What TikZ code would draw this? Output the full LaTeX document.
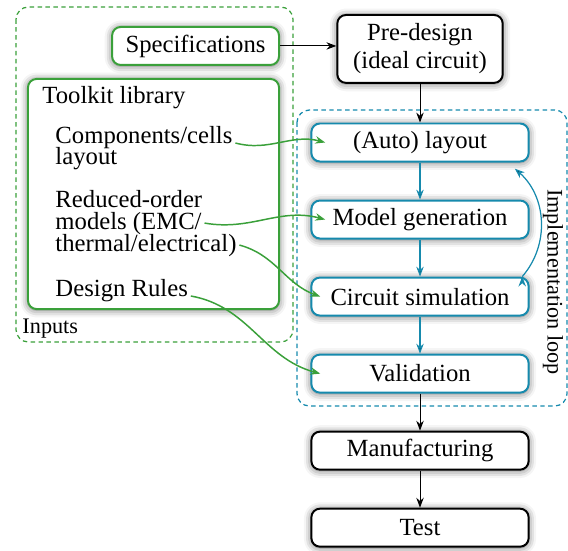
\documentclass[tikz,border=0pt]{standalone}
\usepackage{fontspec}
\setmainfont{Liberation Serif}
\usetikzlibrary{positioning, arrows.meta, shadows.blur}

\definecolor{inputgreen}{RGB}{58,160,58}
\definecolor{loopteal}{RGB}{22,138,173}

\tikzset{
	basebox/.style={draw, thick, rounded corners=3.5pt, fill=white, align=center,
		minimum height=15.4pt, inner sep=2pt,
		blur shadow={shadow xshift=0pt, shadow yshift=-0.4pt, shadow blur radius=3pt, shadow opacity=60},
		font=\fontsize{10}{11.3}\selectfont},
	stepbox/.style={basebox, minimum width=88pt},
	loopbox/.style={stepbox, draw=loopteal},
	inbox/.style={basebox, draw=inputgreen},
	itemtext/.style={anchor=base west, inner sep=0pt, font=\fontsize{10}{9}\selectfont},
	frame/.style={dash pattern=on 1.8pt off 1.4pt, line width=0.5pt, rounded corners=5pt},
	feed/.style={->, draw=inputgreen, line width=0.6pt},
}

\begin{document}
\begin{tikzpicture}[x=0.405pt, y=0.405pt, node distance=31.2pt, on grid, >={Stealth[length=4pt, width=3pt]}]
	\useasboundingbox (0,0) rectangle (568,550);
	
	% frames
	\draw[frame, inputgreen] (16,543) rectangle (293,208);
	\draw[frame, loopteal] (297,440) rectangle (567,144);
	\node[anchor=base west, inner sep=0pt, font=\small] (inputs) at (22,217) {Inputs};
	\node[rotate=-90, inner sep=0pt, font=\small] (looplabel) at (553,268) {Implementation loop};
	
	% main flow
	\node[loopbox] (layout) at (420,407.5) {(Auto) layout};
	\node[basebox, minimum width=67pt, minimum height=27.5pt, above=37.9pt of layout] (predesign) {Pre-design\\(ideal circuit)};
	\node[loopbox, below=of layout] (model) {Model generation};
	\node[loopbox, below=of model] (sim) {Circuit simulation};
	\node[loopbox, below=of sim] (valid) {Validation};
	\node[stepbox, below=of valid] (manuf) {Manufacturing};
	\node[stepbox, below=of manuf] (test) {Test};
	
	% inputs
	\node[inbox, minimum width=67.6pt, left=90.9pt of predesign, yshift=1.2pt] (spec) {Specifications};
	\node[inbox, minimum width=101.7pt, minimum height=93.2pt] (toolkit) at (153.5,356) {};
	\node[itemtext] (tktitle) at (42,447) {Toolkit library};
	\node[itemtext] (comp1) at (55,407) {Components/cells};
	\node[itemtext] (comp2) at (55,386) {layout};
	\node[itemtext] (rom1) at (55,343) {Reduced-order};
	\node[itemtext] (rom2) at (55,321) {models (EMC/};
	\node[itemtext] (rom3) at (55,299) {thermal/electrical)};
	\node[itemtext] (rules) at (55,254) {Design Rules};
	
	\draw[->] (spec.east) -- (spec.east -| predesign.west);
	\draw[->] (predesign) -- (layout);
	\path[->, draw=loopteal, line width=0.5pt]
	(layout) edge (model)
	(model) edge (sim)
	(sim) edge (valid)
	([xshift=-3pt]sim.north east) edge[bend right=45] ([xshift=-6pt, yshift=-2.5pt]layout.south east);
	\draw[->] (valid) -- (manuf);
	\draw[->] (manuf) -- (test);
	
	\draw[feed] ([xshift=1pt]comp1.base east) to[out=-15, in=165] ([xshift=6pt]layout.west);
	\draw[feed] ([xshift=1pt]rom2.east) to[out=-10, in=165] ([xshift=6pt]model.west);
	\draw[feed] ([xshift=1pt]rom3.east) to[out=-15, in=160] ([xshift=4pt]sim.west);
	\draw[feed] ([xshift=1pt]rules.base east) to[out=-10, in=165] ([xshift=4pt]valid.west);
\end{tikzpicture}
\end{document}
